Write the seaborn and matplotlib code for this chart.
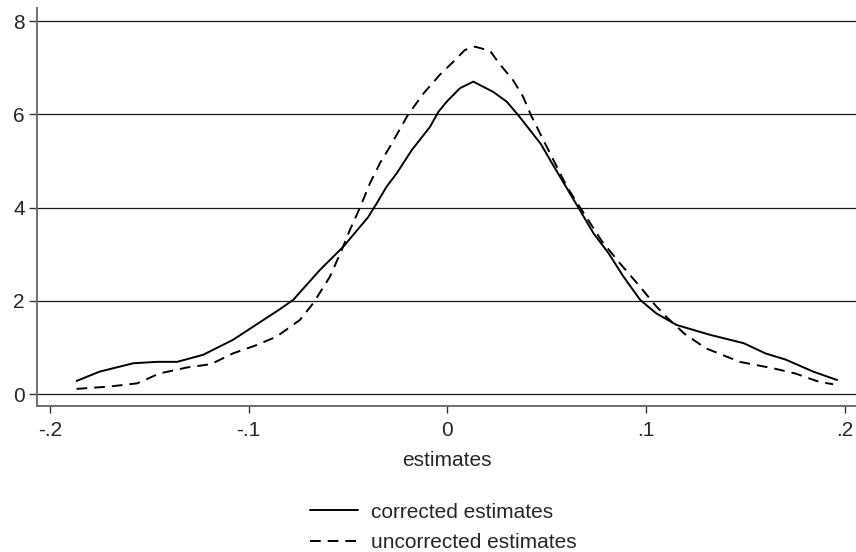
import matplotlib
matplotlib.use("Agg")
import matplotlib.pyplot as plt
import seaborn as sns
import pandas as pd

# Kernel density of corrected estimates
corr_x = [-0.1866, -0.175, -0.158, -0.146, -0.136, -0.123, -0.108, -0.099, -0.094,
          -0.0843, -0.0776, -0.0642, -0.0524, -0.0398, -0.0356, -0.0306, -0.0256,
          -0.018, -0.0088, -0.0046, -0.0004, 0.0063, 0.013, 0.023, 0.0298, 0.0356,
          0.0415, 0.047, 0.0516, 0.058, 0.0658, 0.0734, 0.081, 0.0885, 0.0969,
          0.105, 0.1153, 0.132, 0.149, 0.160, 0.170, 0.184, 0.196]
corr_y = [0.28, 0.48, 0.66, 0.69, 0.69, 0.84, 1.16, 1.41, 1.55,
          1.82, 2.02, 2.66, 3.16, 3.80, 4.09, 4.45, 4.73,
          5.23, 5.73, 6.05, 6.27, 6.56, 6.70, 6.48, 6.27, 5.98,
          5.66, 5.36, 5.02, 4.56, 4.00, 3.45, 3.02, 2.52, 2.02,
          1.73, 1.48, 1.27, 1.09, 0.87, 0.74, 0.48, 0.30]

# Kernel density of uncorrected estimates
unc_x = [-0.1866, -0.170, -0.156, -0.145, -0.131, -0.119, -0.108, -0.096, -0.086,
         -0.0742, -0.0675, -0.0591, -0.0532, -0.0491, -0.044, -0.039, -0.034,
         -0.029, -0.020, -0.012, -0.004, 0.003, 0.0088, 0.0138, 0.0214, 0.026,
         0.033, 0.038, 0.042, 0.049, 0.060, 0.0667, 0.0776, 0.0868, 0.0969,
         0.1044, 0.110, 0.119, 0.130, 0.147, 0.164, 0.175, 0.187, 0.194]
unc_y = [0.11, 0.16, 0.23, 0.44, 0.57, 0.64, 0.87, 1.05, 1.23,
         1.59, 1.95, 2.52, 3.09, 3.52, 4.00, 4.52, 4.95,
         5.30, 5.98, 6.45, 6.84, 7.13, 7.38, 7.45, 7.36, 7.09,
         6.73, 6.38, 5.98, 5.38, 4.45, 4.00, 3.28, 2.80, 2.30,
         1.91, 1.66, 1.30, 0.98, 0.69, 0.55, 0.44, 0.26, 0.21]

x_ticks = [-0.2, -0.1, 0.0, 0.1, 0.2]
x_tick_labels = ["-.2", "-.1", "0", ".1", ".2"]
y_ticks = [0, 2, 4, 6, 8]

sns.set_style("white")
plt.rcParams["font.family"] = ["Liberation Sans", "DejaVu Sans"]

fig = plt.figure(figsize=(8.56, 5.52), dpi=100)
ax = fig.add_axes([37 / 856, 1 - 406 / 552, 1 - 37 / 856, (406 - 8) / 552])

corr = pd.DataFrame({"x": corr_x, "y": corr_y})
unc = pd.DataFrame({"x": unc_x, "y": unc_y})

sns.lineplot(data=corr, x="x", y="y", ax=ax, color="black", linewidth=1.4,
             sort=False, label="corrected estimates")
sns.lineplot(data=unc, x="x", y="y", ax=ax, color="black", linewidth=1.4,
             sort=False, linestyle=(0, (5.5, 3.6)), label="uncorrected estimates")

ax.set_xlim(-0.2065, 0.2055)
ax.set_ylim(-0.257, 8.279)

ax.set_xticks(x_ticks)
ax.set_xticklabels(x_tick_labels)
ax.set_yticks(y_ticks)
ax.set_yticklabels([str(v) for v in y_ticks])

for v in y_ticks:
    ax.axhline(v, color="#1a1a1a", linewidth=0.9, zorder=0)

for side in ["top", "right"]:
    ax.spines[side].set_visible(False)
for side in ["left", "bottom"]:
    ax.spines[side].set_color("#6e6e6e")
    ax.spines[side].set_linewidth(1.4)

ax.tick_params(axis="x", length=5, width=1, color="#333333", labelsize=15,
               pad=6, bottom=True)
ax.tick_params(axis="y", length=5.8, width=1, color="#333333", labelsize=15,
               pad=3, left=True)

ax.set_xlabel("estimates", fontsize=15, labelpad=8)
ax.set_ylabel("")

ax.legend(loc="upper center", bbox_to_anchor=(0.496, -0.222), frameon=False,
          fontsize=15, handlelength=2.3, handletextpad=0.6, labelspacing=0.55,
          borderaxespad=0)

fig.savefig("out.png", dpi=100)
